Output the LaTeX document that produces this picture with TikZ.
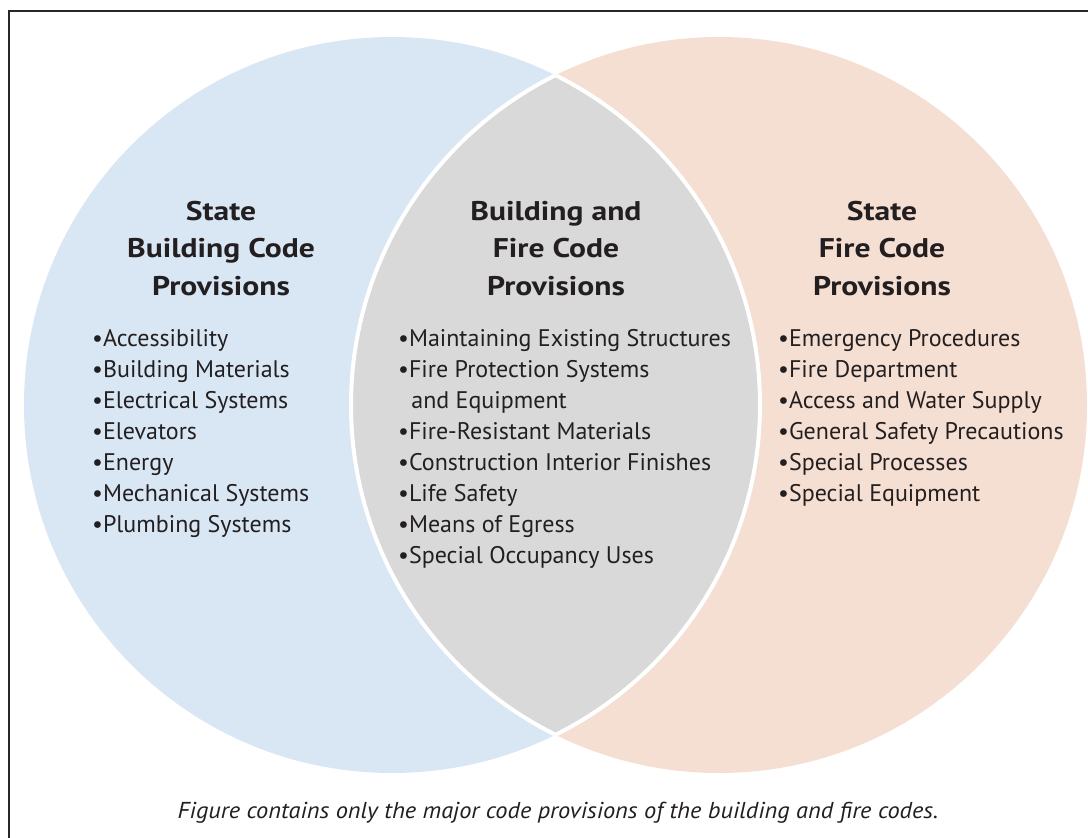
\documentclass[tikz,border=0pt]{standalone}
\usepackage{fontspec}
\setmainfont{PT Sans}
\newfontfamily\headfont[FakeStretch=1.17]{PT Sans}
\definecolor{bluefill}{HTML}{D9E7F5}
\definecolor{peachfill}{HTML}{F5DFD3}
\definecolor{lensfill}{HTML}{D9D9D9}
\definecolor{ink}{HTML}{231F20}
\tikzset{
  heading/.style={anchor=base, align=center, font=\headfont\bfseries\fontsize{27}{37.5}\selectfont, text=ink, inner sep=0pt},
  itemlist/.style={anchor=base west, align=left, font=\fontsize{24}{31}\selectfont, text=ink, inner sep=0pt},
  caption/.style={anchor=base, font=\itshape\fontsize{23}{26}\selectfont, text=ink, inner sep=0pt},
  frame/.style={draw=black!85, line width=1.6pt},
  sep/.style={draw=white, line width=4pt}
}
\begin{document}
\begin{tikzpicture}[x=1pt,y=-1pt]
\useasboundingbox (0,0) rectangle (1088,838);
\fill[white] (0,0) rectangle (1088,838);
\coordinate (cL) at (392,405);
\coordinate (cR) at (719,405);
% circles
\fill[bluefill] (cL) circle[radius=368pt];
\fill[peachfill] (cR) circle[radius=368pt];
\begin{scope}
  \clip (cL) circle[radius=368pt];
  \fill[lensfill] (cR) circle[radius=368pt];
  \draw[sep] (cR) circle[radius=368pt];
\end{scope}
\begin{scope}
  \clip (cR) circle[radius=368pt];
  \draw[sep] (cL) circle[radius=368pt];
\end{scope}
% frame
\draw[frame] (9,11) rectangle (1120,870);
% headings (base anchor = baseline of last line)
\node[heading] (hL) at (221,295) {State\\Building Code\\Provisions};
\node[heading] (hM) at (556,295) {Building and\\Fire Code\\Provisions};
\node[heading] (hR) at (882,295) {State\\Fire Code\\Provisions};
% lists (base anchor = baseline of last line)
\node[itemlist] (lL) at (92,532) {•Accessibility\\•Building Materials\\•Electrical Systems\\•Elevators\\•Energy\\•Mechanical Systems\\•Plumbing Systems};
\node[itemlist] (lM) at (398,563) {•Maintaining Existing Structures\\•Fire Protection Systems\\\hspace*{0.55em}and Equipment\\•Fire-Resistant Materials\\•Construction Interior Finishes\\•Life Safety\\•Means of Egress\\•Special Occupancy Uses};
\node[itemlist] (lR) at (778,501) {•Emergency Procedures\\•Fire Department\\•Access and Water Supply\\•General Safety Precautions\\•Special Processes\\•Special Equipment};
% caption
\node[caption] (cap) at (558,818) {\scalebox{1.06}[1]{Figure contains only the major code provisions of the building and fire codes.}};
\end{tikzpicture}
\end{document}
